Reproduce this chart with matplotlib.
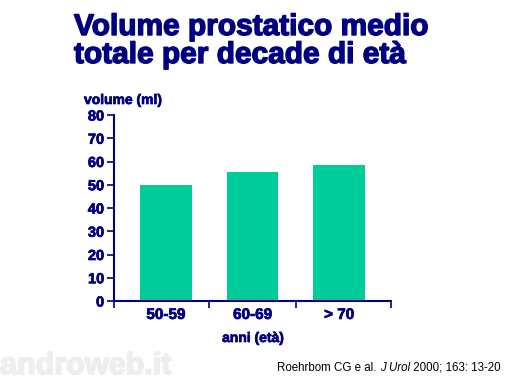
import matplotlib.pyplot as plt
import matplotlib.patheffects as pe
import numpy as np

categories = ['50-59', '60-69', '>70']
volumes = [49.8, 55.6, 58.7]
yticks = [0, 10, 20, 30, 40, 50, 60, 70, 80]

navy = '#000080'
teal = '#00CC99'

fig = plt.figure(figsize=(5.06, 3.81), dpi=100)
plt.rcParams['font.family'] = ['Liberation Sans', 'DejaVu Sans']

ax = fig.add_axes([114 / 506, 1 - 301 / 381, (391 - 114) / 506, (301 - 115) / 381])
x = np.arange(len(categories))
ax.bar(x, volumes, width=0.6, color=teal, zorder=2)

heavy = [pe.withStroke(linewidth=0.5, foreground=navy)]

ax.set_xlim(-0.6, 2.6)
ax.set_ylim(0, 80)
ax.set_yticks(yticks)
ax.set_yticklabels([str(v) for v in yticks], fontsize=10.5, fontweight='bold', color=navy)
ax.set_xticks(x)
ax.set_xticklabels([c.replace('>', '> ') for c in categories],
                   fontsize=11, fontweight='bold', color=navy)
ax.tick_params(axis='x', which='major', length=0, pad=5)
ax.set_xticks([-0.6, 0.5, 1.5, 2.6], minor=True)
ax.tick_params(axis='x', which='minor', length=5, width=1.2, color=navy, direction='out')
ax.tick_params(axis='y', length=5, width=1.2, color=navy, direction='out', pad=2)
for lbl in ax.get_xticklabels() + ax.get_yticklabels():
    lbl.set_path_effects(heavy)

for s in ['top', 'right']:
    ax.spines[s].set_visible(False)
for s in ['left', 'bottom']:
    ax.spines[s].set_color(navy)
    ax.spines[s].set_linewidth(1.5)

fig.text(123 / 506, 1 - 100 / 381, 'volume (ml)', ha='center', va='center',
         fontsize=10, fontweight='bold', color=navy, path_effects=heavy)
fig.text(253 / 506, 1 - 338 / 381, 'anni (età)', ha='center', va='center',
         fontsize=10, fontweight='bold', color=navy, path_effects=heavy)

fig.text(74 / 506, 1 - 41 / 381, 'Volume prostatico medio\ntotale per decade di età',
         ha='left', va='center', fontsize=21.5, fontweight='bold', color=navy,
         linespacing=1.0, path_effects=[pe.withStroke(linewidth=1.0, foreground=navy)])

fig.text(0, 1 - 366 / 381, 'androweb.it', ha='left', va='center',
         fontsize=22, fontweight='bold', color='#eeeeee',
         path_effects=[pe.withStroke(linewidth=1.2, foreground='#eeeeee')])

t1 = fig.text(277 / 506, 1 - 368 / 381, 'Roehrbom CG e al. ', ha='left', va='center',
              fontsize=8.3, color='black')
t2 = ax.annotate('J Urol', xy=(1, 0.5), xycoords=t1, ha='left', va='center',
                 fontsize=8.3, style='italic', color='black', annotation_clip=False)
ax.annotate(' 2000; 163: 13-20', xy=(1, 0.5), xycoords=t2, ha='left', va='center',
            fontsize=8.3, color='black', annotation_clip=False)

fig.savefig('out.png', dpi=100)
